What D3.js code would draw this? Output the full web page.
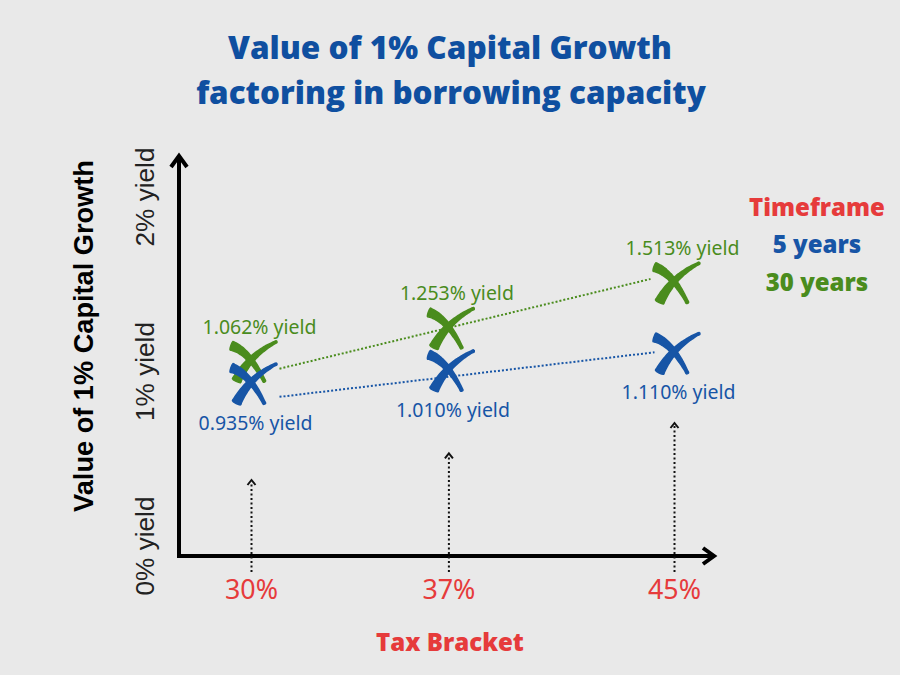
<!DOCTYPE html>
<html><head><meta charset="utf-8">
<script src="https://cdn.jsdelivr.net/npm/d3@7"></script>
<style>html,body{margin:0;padding:0;background:#e9e9e9;} svg{display:block;}</style>
</head><body>
<script>
// ---- data ----
const taxBrackets = [30, 37, 45];
const taxLabels = ["30%", "37%", "45%"];
const series5yr = [0.935, 1.010, 1.110];
const series30yr = [1.062, 1.253, 1.513];
const yTickValues = [0, 1, 2];
const yTickLabels = ["0% yield", "1% yield", "2% yield"];
const legendTitle = "Timeframe";
const legendItems = ["5 years", "30 years"];
const titleLines = ["Value of 1% Capital Growth", "factoring in borrowing capacity"];
const yAxisTitle = "Value of 1% Capital Growth";
const xAxisTitle = "Tax Bracket";

// ---- style ----
const W = 900, H = 675;
const C = {bg:"#e9e9e9", title:"#0f4fa0", blue:"#1755a6", green:"#4a8c1d", red:"#e63b3b", axis:"#000"};
const boldFont = "'Open Sans', Lato, sans-serif";

const svg = d3.select("body").append("svg").attr("width", W).attr("height", H);
svg.append("rect").attr("width", W).attr("height", H).attr("fill", C.bg);

const x = d3.scaleLinear().domain([30, 45]).range([251.5, 674.5]);
const y = d3.scaleLinear().domain([0, 2]).range([546, 197]);
const arrowTop = d3.scaleLinear().domain([30, 45]).range([480, 423]);
const axisX0 = 179, axisY0 = 556, axisXEnd = 714, axisYTop = 156;

function fitText(sel, target){
  const n = sel.node(); const len = n.getComputedTextLength();
  const fs = parseFloat(sel.attr("font-size"));
  sel.attr("font-size", fs * target / len);
  return sel;
}

// Title
const t1 = svg.append("text").attr("x", 450).attr("y", 59).attr("text-anchor","middle")
  .attr("font-family",boldFont).attr("font-weight",800).attr("font-size",30)
  .attr("fill",C.title).text(titleLines[0]);
fitText(t1, 444);
const t2 = svg.append("text").attr("x", 451).attr("y", 104).attr("text-anchor","middle")
  .attr("font-family",boldFont).attr("font-weight",800).attr("font-size",30)
  .attr("fill",C.title).text(titleLines[1]);
fitText(t2, 510);

// Axes
const g = svg.append("g");
g.append("line").attr("x1",axisX0).attr("y1",axisY0).attr("x2",axisXEnd-1).attr("y2",axisY0)
  .attr("stroke",C.axis).attr("stroke-width",4);
g.append("line").attr("x1",axisX0).attr("y1",axisY0+2).attr("x2",axisX0).attr("y2",axisYTop+2)
  .attr("stroke",C.axis).attr("stroke-width",4);
g.append("path").attr("d",`M${axisXEnd-11},${axisY0-8}L${axisXEnd},${axisY0}L${axisXEnd-11},${axisY0+8}`)
  .attr("fill","none").attr("stroke",C.axis).attr("stroke-width",4);
g.append("path").attr("d",`M${axisX0-8},${axisYTop+11}L${axisX0},${axisYTop}L${axisX0+8},${axisYTop+11}`)
  .attr("fill","none").attr("stroke",C.axis).attr("stroke-width",4);

// Y tick labels (rotated)
svg.selectAll(".ytick").data(yTickValues).join("text")
  .attr("transform", (d)=>`translate(154,${y(d)}) rotate(-90)`)
  .attr("text-anchor","middle")
  .attr("font-family","'Liberation Sans', Arial, sans-serif").attr("font-size",24)
  .attr("fill","#222").text((d,i)=>yTickLabels[i])
  .each(function(){ fitText(d3.select(this), 99); });

// Y axis title
const yt = svg.append("text").attr("transform","translate(93,336) rotate(-90)").attr("text-anchor","middle")
  .attr("font-family","'Liberation Sans', Arial, sans-serif").attr("font-weight","bold").attr("font-size",24)
  .attr("fill","#000").text(yAxisTitle);
fitText(yt, 352);

// X tick labels
svg.selectAll(".xtick").data(taxBrackets).join("text")
  .attr("x", d=>x(d)).attr("y", 599).attr("text-anchor","middle")
  .attr("font-family","'Noto Sans', 'Open Sans', sans-serif").attr("font-size",24)
  .attr("fill",C.red).text((d,i)=>taxLabels[i])
  .each(function(){ fitText(d3.select(this), 53); });

// X axis title
const xt = svg.append("text").attr("x",450).attr("y",651).attr("text-anchor","middle")
  .attr("font-family",boldFont).attr("font-weight",800).attr("font-size",24)
  .attr("fill",C.red).text(xAxisTitle);
fitText(xt, 148);

// Vertical dotted arrows
const va = svg.append("g");
taxBrackets.forEach(t=>{
  const xx = x(t), top = arrowTop(t);
  va.append("line").attr("x1",xx).attr("x2",xx).attr("y1",572).attr("y2",top+2)
    .attr("stroke","#111").attr("stroke-width",2).attr("stroke-dasharray","2,2.5");
  va.append("path").attr("d",`M${xx-4},${top+5}L${xx},${top}L${xx+4},${top+5}`)
    .attr("fill","none").attr("stroke","#111").attr("stroke-width",2);
});

// Dotted trend lines
function trend(vals, color, dx0, dx1, dy0, dy1){
  svg.append("line")
    .attr("x1", x(taxBrackets[0])+dx0).attr("y1", y(vals[0])+dy0)
    .attr("x2", x(taxBrackets[2])+dx1).attr("y2", y(vals[2])+dy1)
    .attr("stroke", color).attr("stroke-width",2).attr("stroke-dasharray","2,2");
}
trend(series30yr, C.green, 28, -24, 8, -3);
trend(series5yr, C.blue, 28, -20, 14, 0);

// Hand-drawn X markers
function taper(p0, c, p1, w0, w1){
  const left=[], right=[], N=24;
  for(let i=0;i<=N;i++){
    const t=i/N, mt=1-t;
    const px = mt*mt*p0[0]+2*mt*t*c[0]+t*t*p1[0];
    const py = mt*mt*p0[1]+2*mt*t*c[1]+t*t*p1[1];
    const dx = 2*mt*(c[0]-p0[0])+2*t*(p1[0]-c[0]);
    const dy = 2*mt*(c[1]-p0[1])+2*t*(p1[1]-c[1]);
    const L = Math.hypot(dx,dy)||1;
    const nx=-dy/L, ny=dx/L, w=(w0+(w1-w0)*t)/2;
    left.push([px+nx*w, py+ny*w]); right.push([px-nx*w, py-ny*w]);
  }
  return d3.line().curve(d3.curveCatmullRomClosed)(left.concat(right.reverse()));
}
const strokeA = taper([-20,-15],[-2,-9],[13,21], 9, 2.5);
const strokeB = taper([25,-19],[-2,-6],[-15,20], 2, 9);
function markers(vals, color){
  const mg = svg.append("g");
  vals.forEach((v,i)=>{
    const gg = mg.append("g").attr("transform",`translate(${x(taxBrackets[i])},${y(v)})`);
    gg.append("path").attr("d",strokeA).attr("fill",color).attr("stroke",color).attr("stroke-width",1.5).attr("stroke-linejoin","round");
    gg.append("path").attr("d",strokeB).attr("fill",color).attr("stroke",color).attr("stroke-width",1.5).attr("stroke-linejoin","round");
  });
}
markers(series30yr, C.green);
markers(series5yr, C.blue);

// Value labels
const fmt = d3.format(".3f");
svg.selectAll(".lab30").data(series30yr).join("text")
  .attr("x",(d,i)=>x(taxBrackets[i])+8).attr("y",d=>y(d)-27).attr("text-anchor","middle")
  .attr("font-family","'Noto Sans', sans-serif").attr("font-size",17).attr("fill",C.green)
  .text(d=>fmt(d)+"% yield")
  .each(function(){ fitText(d3.select(this), 114); });
svg.selectAll(".lab5").data(series5yr).join("text")
  .attr("x",(d,i)=>x(taxBrackets[i])+4).attr("y",d=>y(d)+47).attr("text-anchor","middle")
  .attr("font-family","'Noto Sans', sans-serif").attr("font-size",17).attr("fill",C.blue)
  .text(d=>fmt(d)+"% yield")
  .each(function(){ fitText(d3.select(this), 114); });

// Legend
const lg = svg.append("g").attr("font-family",boldFont).attr("font-weight",800)
  .attr("font-size",24).attr("text-anchor","middle");
const l0 = lg.append("text").attr("x",817).attr("y",216).attr("fill",C.red).text(legendTitle);
fitText(l0, 139);
const fs = parseFloat(l0.attr("font-size"));
lg.append("text").attr("x",817).attr("y",253).attr("font-size",fs).attr("fill",C.blue).text(legendItems[0]);
lg.append("text").attr("x",817).attr("y",291).attr("font-size",fs).attr("fill",C.green).text(legendItems[1]);
</script>
</body></html>
